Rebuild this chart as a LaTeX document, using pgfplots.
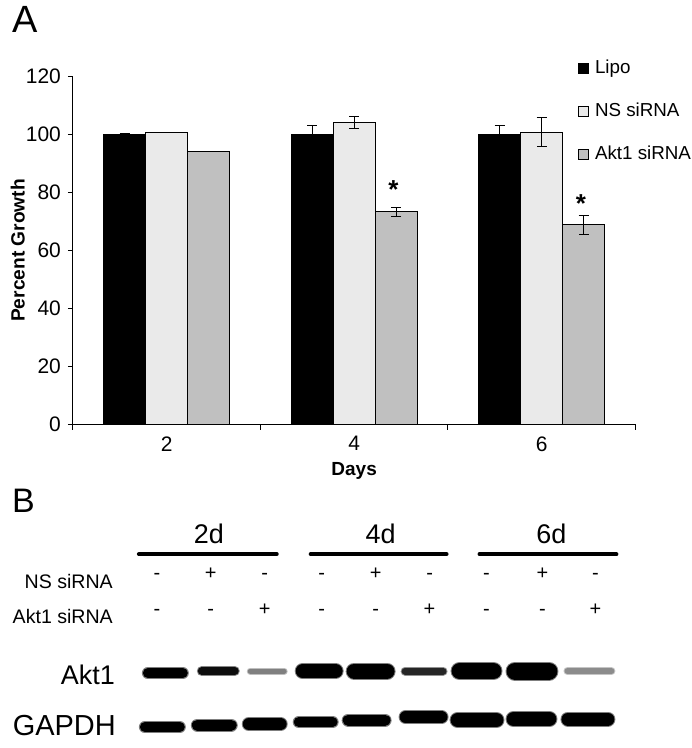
\documentclass[border=0pt]{standalone}
\usepackage{pgfplots}
\usepackage{pgfplotstable}
\pgfplotsset{compat=1.18}
\usepackage{fontspec}
\setmainfont{Liberation Sans}

\definecolor{aktgray}{RGB}{192,192,192}
\definecolor{nsdots}{RGB}{234,234,234}

% percent growth, days 2/4/6
\pgfplotstableread{
day lipo lipoerr ns nserr akt akterr
1 100 0.3 100.8 0 94.1 0
2 100 3.2 104.3 2.1 73.3 1.4
3 100 3.3 100.8 5.0 68.8 3.3
}\growth

% one blot band: x0 x1 y thickness darkness (pixel units of the frame)
\newcommand{\band}[5]{%
  \pgfmathsetmacro{\bl}{#1+#4/2}\pgfmathsetmacro{\br}{#2-#4/2}%
  \addplot[forget plot, line cap=round, line width={(#4+2)*0.5pt}, color=black!#5, opacity=0.5] coordinates {(\bl,#3) (\br,#3)};%
  \addplot[forget plot, line cap=round, line width={#4*0.5pt}, color=black!#5] coordinates {(\bl,#3) (\br,#3)};%
}
\newcommand{\sign}[3]{\node[font=\fontsize{10}{10}\selectfont] at (axis cs:#1,#2) {#3};}

\begin{document}
\begin{tikzpicture}
% whole figure, pixel coordinates (1px = 0.5pt), y downwards
\begin{axis}[name=frame, at={(0,0)}, anchor=south west,
  width=344.5pt, height=374pt, scale only axis,
  xmin=0, xmax=689, ymin=0, ymax=748, y dir=reverse,
  hide axis, clip=false]
\addplot[draw=none, forget plot] coordinates {(0,0) (689,748)};
\node[font=\fontsize{19}{19}\selectfont, anchor=west] at (axis cs:5,19) {A};
\node[font=\fontsize{17}{17}\selectfont, anchor=west] at (axis cs:5,501) {B};

\node[font=\fontsize{13.5}{14}\selectfont] at (axis cs:209,534) {2d};
\node[font=\fontsize{13.5}{14}\selectfont] at (axis cs:381,534) {4d};
\node[font=\fontsize{13.5}{14}\selectfont] at (axis cs:552,534) {6d};
\addplot[forget plot, line width=2pt, line cap=round] coordinates {(139,554) (277,554)};
\addplot[forget plot, line width=2pt, line cap=round] coordinates {(311,554) (447,554)};
\addplot[forget plot, line width=2pt, line cap=round] coordinates {(480,554) (617,554)};

\node[font=\fontsize{9.8}{10}\selectfont, anchor=east] at (axis cs:120,581) {NS siRNA};
\node[font=\fontsize{9.8}{10}\selectfont, anchor=east] at (axis cs:120,616) {Akt1 siRNA};
\sign{157}{576}{-}\sign{211}{574}{+}\sign{265}{576}{-}
\sign{322}{576}{-}\sign{376}{574}{+}\sign{430}{576}{-}
\sign{487}{576}{-}\sign{543}{574}{+}\sign{596}{576}{-}
\sign{157}{612}{-}\sign{211}{612}{-}\sign{265}{610}{+}
\sign{322}{612}{-}\sign{376}{612}{-}\sign{430}{610}{+}
\sign{487}{612}{-}\sign{543}{612}{-}\sign{596}{610}{+}

\node[font=\fontsize{13.5}{14}\selectfont, anchor=east] at (axis cs:122,675) {Akt1};
\node[font=\fontsize{14.5}{15}\selectfont, anchor=east] at (axis cs:123,725) {GAPDH};

% Akt1 bands
\band{143}{188}{673}{10}{100}
\band{198}{239}{671}{8}{95}
\band{248}{287}{671}{5}{50}
\band{296}{343}{671}{14}{100}
\band{347}{395}{671}{15}{100}
\band{402}{447}{671}{7}{85}
\band{452}{502}{671}{16}{100}
\band{507}{558}{671}{17}{100}
\band{565}{615}{671}{6}{45}
% GAPDH bands
\band{140}{185}{727}{10}{100}
\band{192}{237}{725}{11}{100}
\band{243}{287}{724}{12}{100}
\band{294}{338}{722}{10}{100}
\band{343}{391}{720}{11}{100}
\band{400}{448}{717}{12}{100}
\band{451}{504}{720}{14}{100}
\band{507}{557}{719}{14}{100}
\band{562}{615}{719}{13}{100}
\end{axis}

\begin{axis}[at={(36.5pt,162pt)}, anchor=south west,
  width=281.5pt, height=174pt, scale only axis,
  xmin=0.5, xmax=3.5, ymin=0, ymax=120,
  axis x line*=bottom, axis y line*=left,
  axis line style={line width=0.5pt},
  ytick={0,20,...,120},
  xtick={1,2,3}, xticklabels={2,4,6},
  major x tick style={draw=none},
  minor xtick={0.5,1.5,2.5,3.5},
  tick align=outside, major tick length=2.5pt, minor tick length=2.8pt,
  tick style={black, line width=0.5pt},
  ticklabel style={font=\fontsize{10.5}{11}\selectfont},
  /pgf/number format/assume math mode=true,
  xlabel={Days}, ylabel={Percent Growth},
  xlabel style={font=\bfseries\fontsize{9.5}{10}\selectfont, at={(axis description cs:0.5,-0.135)}, anchor=center},
  ylabel style={font=\bfseries\fontsize{9.6}{10}\selectfont, at={(axis description cs:-0.098,0.5)}, anchor=center},
  ybar=0pt, bar width=21pt,
  every axis plot/.append style={line width=0.5pt},
  legend image code/.code={\draw[#1, line width=0.4pt] (0pt,-2.6pt) rectangle (5.2pt,2.6pt);},
  legend style={at={(rel axis cs:0.897,1.05)}, anchor=north west, draw=none, fill=none,
    inner sep=0pt, row sep=12.5pt, column sep=3pt,
    nodes={inner sep=0pt, text height=7pt, text depth=2pt},
    font=\fontsize{9.4}{10}\selectfont},
  legend cell align=left,
  clip=false,
]
\addplot[fill=black, draw=black,
  error bars/.cd, y dir=both, y explicit,
  error bar style={black, line width=0.5pt},
  error mark options={rotate=90, mark size=2.5pt, black, line width=0.5pt}]
  table[x=day, y=lipo, y error=lipoerr] {\growth};
\addplot[fill=nsdots, draw=black,
  error bars/.cd, y dir=both, y explicit,
  error bar style={black, line width=0.5pt},
  error mark options={rotate=90, mark size=2.5pt, black, line width=0.5pt}]
  table[x=day, y=ns, y error=nserr] {\growth};
\addplot[fill=aktgray, draw=black,
  error bars/.cd, y dir=both, y explicit,
  error bar style={black, line width=0.5pt},
  error mark options={rotate=90, mark size=2.5pt, black, line width=0.5pt}]
  table[x=day, y=akt, y error=akterr] {\growth};
\legend{Lipo, NS siRNA, Akt1 siRNA}
\node[font=\bfseries\fontsize{13}{13}\selectfont] at (axis cs:2.21,81) {*};
\node[font=\bfseries\fontsize{13}{13}\selectfont] at (axis cs:3.21,76.3) {*};
\end{axis}
\end{tikzpicture}
\end{document}
